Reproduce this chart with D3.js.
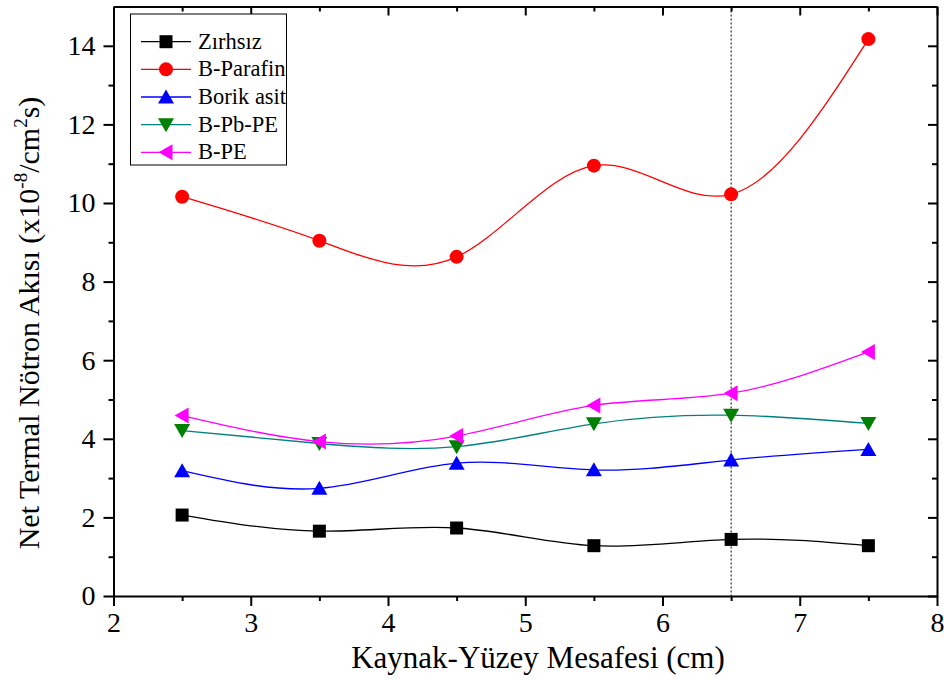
<!DOCTYPE html>
<html>
<head>
<meta charset="utf-8">
<script src="https://cdn.jsdelivr.net/npm/d3@7"></script>
</head>
<body style="margin:0">
<svg id="chart" width="944" height="680"></svg>
<script>
// Source-to-surface distance (cm)
const distances = [2.5, 3.5, 4.5, 5.5, 6.5, 7.5];

// Net thermal neutron flux (x10^-8 / cm^2 s) for each shielding case
const zirhsiz   = [2.06, 1.65, 1.73, 1.28, 1.44, 1.28];
const bParafin  = [10.16, 9.04, 8.63, 10.95, 10.22, 14.17];
const borikAsit = [3.19, 2.74, 3.38, 3.21, 3.46, 3.73];
const bPbPe     = [4.21, 3.88, 3.80, 4.38, 4.60, 4.39];
const bPe       = [4.59, 3.93, 4.07, 4.85, 5.16, 6.21];

const seriesNames = ["Zırhsız", "B-Parafin", "Borik asit", "B-Pb-PE", "B-PE"];
const seriesValues = [zirhsiz, bParafin, borikAsit, bPbPe, bPe];

const xTicks = [2, 3, 4, 5, 6, 7, 8];
const yTicks = [0, 2, 4, 6, 8, 10, 12, 14];
const markerLineX = 6.5;

const xTitle = "Kaynak-Yüzey Mesafesi (cm)";

// styling per series
const styles = [
  { line: "#000000", fill: "#000000", shape: "square" },
  { line: "#FF0000", fill: "#FF0000", shape: "circle" },
  { line: "#0000FF", fill: "#0000FF", shape: "up" },
  { line: "#008080", fill: "#008000", shape: "down" },
  { line: "#FF00FF", fill: "#FF00FF", shape: "left" }
];

const svg = d3.select("#chart");
const m = { left: 113.5, right: 937, top: 6.5, bottom: 596 };

const x = d3.scaleLinear().domain([2, 8]).range([m.left, m.right]);
const y = d3.scaleLinear().domain([0, 15]).range([m.bottom, m.top]);

// serif text helper
function serif(sel, size) {
  return sel.style("font-family", '"Liberation Serif"').style("font-size", size + "px").attr("fill", "#000");
}

// dotted reference line
svg.append("line")
  .attr("x1", x(markerLineX)).attr("x2", x(markerLineX))
  .attr("y1", y(15)).attr("y2", y(0))
  .attr("stroke", "#000").attr("stroke-width", 1)
  .attr("stroke-dasharray", "2,2");

// symbol path generator centred on 0,0
function symbolPath(shape) {
  switch (shape) {
    case "square": return "M-6.5,-6.5H6.5V6.5H-6.5Z";
    case "circle": return d3.arc()({ innerRadius: 0, outerRadius: 7, startAngle: 0, endAngle: 2 * Math.PI });
    case "up": return "M0,-7.5L8,6.5L-8,6.5Z";
    case "down": return "M0,7.5L8,-6.5L-8,-6.5Z";
    case "left": return "M-7.5,0L6.5,-8L6.5,8Z";
  }
}

const lineGen = d3.line()
  .x((d, i) => x(distances[i]))
  .y(d => y(d))
  .curve(d3.curveNatural);

seriesValues.forEach((vals, si) => {
  svg.append("path")
    .datum(vals)
    .attr("d", lineGen)
    .attr("fill", "none")
    .attr("stroke", styles[si].line)
    .attr("stroke-width", 1.3);
});

seriesValues.forEach((vals, si) => {
  svg.append("g").selectAll("path")
    .data(vals)
    .join("path")
    .attr("d", symbolPath(styles[si].shape))
    .attr("transform", (d, i) => `translate(${x(distances[i])},${y(d)})`)
    .attr("fill", styles[si].fill);
});

// axes
const minorX = d3.range(2.5, 8, 1);
const minorY = d3.range(1, 15, 2);
const axisStyle = g => {
  g.attr("font-family", null).attr("font-size", null);
  g.selectAll(".domain").attr("stroke-width", 2);
  g.selectAll(".tick line").attr("stroke-width", 2);
};

const xAxis = svg.append("g").attr("transform", `translate(0,${m.bottom})`)
  .call(d3.axisBottom(x).tickValues(xTicks).tickFormat(d3.format("d")).tickSize(10).tickSizeOuter(0).tickPadding(6))
  .call(axisStyle);
serif(xAxis.selectAll("text"), 28);
svg.append("g").attr("transform", `translate(0,${m.bottom})`)
  .call(d3.axisBottom(x).tickValues(minorX).tickFormat("").tickSize(5).tickSizeOuter(0))
  .call(axisStyle).select(".domain").remove();

const yAxis = svg.append("g").attr("transform", `translate(${m.left},0)`)
  .call(d3.axisLeft(y).tickValues(yTicks).tickFormat(d3.format("d")).tickSize(10).tickSizeOuter(0).tickPadding(8))
  .call(axisStyle);
serif(yAxis.selectAll("text"), 28);
svg.append("g").attr("transform", `translate(${m.left},0)`)
  .call(d3.axisLeft(y).tickValues(minorY).tickFormat("").tickSize(5).tickSizeOuter(0))
  .call(axisStyle).select(".domain").remove();

// mirrored top and right axes, ticks pointing inward
svg.append("g").attr("transform", `translate(0,${m.top})`)
  .call(d3.axisTop(x).tickValues(xTicks).tickFormat("").tickSize(-9).tickSizeOuter(0))
  .call(axisStyle);
svg.append("g").attr("transform", `translate(0,${m.top})`)
  .call(d3.axisTop(x).tickValues(minorX).tickFormat("").tickSize(-5).tickSizeOuter(0))
  .call(axisStyle).select(".domain").remove();
svg.append("g").attr("transform", `translate(${m.right},0)`)
  .call(d3.axisRight(y).tickValues(yTicks).tickFormat("").tickSize(-9).tickSizeOuter(0))
  .call(axisStyle);
svg.append("g").attr("transform", `translate(${m.right},0)`)
  .call(d3.axisRight(y).tickValues(minorY).tickFormat("").tickSize(-5).tickSizeOuter(0))
  .call(axisStyle).select(".domain").remove();

// axis titles
serif(svg.append("text"), 31)
  .attr("x", 538).attr("y", 668)
  .attr("text-anchor", "middle")
  .text(xTitle);

const yt = serif(svg.append("text"), 30)
  .attr("transform", "translate(39,323) rotate(-90)")
  .attr("text-anchor", "middle");
yt.append("tspan").text("Net Termal Nötron Akısı (x10");
yt.append("tspan").style("font-size", "19px").attr("dy", -12).text("-8");
yt.append("tspan").attr("dy", 12).text("/cm");
yt.append("tspan").style("font-size", "19px").attr("dy", -12).text("2");
yt.append("tspan").attr("dy", 12).text("s)");

// legend
const lg = svg.append("g");
lg.append("rect")
  .attr("x", 130.5).attr("y", 14).attr("width", 156).attr("height", 151)
  .attr("fill", "#fff").attr("stroke", "#000").attr("stroke-width", 1);
seriesNames.forEach((name, i) => {
  const cy = 41.7 + i * 27.65;
  const st = styles[i];
  lg.append("line").attr("x1", 141).attr("x2", 191).attr("y1", cy).attr("y2", cy)
    .attr("stroke", st.line).attr("stroke-width", 1.3);
  lg.append("path").attr("d", symbolPath(st.shape))
    .attr("transform", `translate(166,${cy})`).attr("fill", st.fill);
  serif(lg.append("text"), 22.5).attr("x", 198).attr("y", cy + 7).text(name);
});
</script>
</body>
</html>
